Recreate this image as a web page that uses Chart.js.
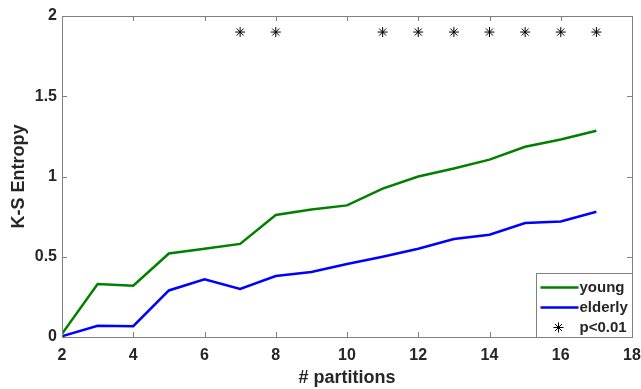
<!DOCTYPE html>
<html>
  <head>
    <meta charset="UTF-8">
    <title>K-S Entropy vs partitions</title>
    <script src="https://cdn.jsdelivr.net/npm/chart.js@4"></script>
    <style>
      html, body { margin: 0; padding: 0; background: #fff; }
      #wrap { width: 641px; height: 389px; position: relative; }
    </style>
  </head>
  <body>
    <div id="wrap"><canvas id="entropyChart"></canvas></div>

    <script>
      // values
      const partitions = [2, 3, 4, 5, 6, 7, 8, 9, 10, 11, 12, 13, 14, 15, 16, 17];
      const young =   [0.02, 0.33, 0.32, 0.52, 0.55, 0.58, 0.76, 0.795, 0.82, 0.925, 1.0, 1.05, 1.105, 1.185, 1.23, 1.285];
      const elderly = [0.005, 0.07, 0.067, 0.29, 0.36, 0.30, 0.38, 0.405, 0.455, 0.50, 0.55, 0.61, 0.637, 0.71, 0.72, 0.78];
      const sigPartitions = [7, 8, 11, 12, 13, 14, 15, 16, 17];
      const sigLevel = 1.9;
      const xTicks = [2, 4, 6, 8, 10, 12, 14, 16, 18];
      const yTicks = [0, 0.5, 1, 1.5, 2];

      const GREEN = '#008000';
      const BLUE = '#0000ff';
      const AXIS = '#808080';
      const TEXT = '#262626';
      const FONT = 'Liberation Sans, Arial, sans-serif';

      const toPoints = (xs, ys) => xs.map((x, i) => ({ x: x, y: ys[i] }));

      // box + inward ticks on all four sides, MATLAB style
      const boxPlugin = {
        id: 'box',
        afterDatasetsDraw(chart) {
          const ctx = chart.ctx;
          const a = chart.chartArea;
          const sx = chart.scales.x, sy = chart.scales.y;
          ctx.save();
          ctx.strokeStyle = AXIS;
          ctx.lineWidth = 1;
          ctx.beginPath();
          for (let v of xTicks) {
            const px = Math.round(sx.getPixelForValue(v)) + 0.5;
            ctx.moveTo(px, a.bottom); ctx.lineTo(px, a.bottom - 5);
            ctx.moveTo(px, a.top); ctx.lineTo(px, a.top + 5);
          }
          for (let v of yTicks) {
            const py = Math.round(sy.getPixelForValue(v)) + 0.5;
            ctx.moveTo(a.left, py); ctx.lineTo(a.left + 5, py);
            ctx.moveTo(a.right, py); ctx.lineTo(a.right - 5, py);
          }
          ctx.stroke();
          ctx.strokeRect(Math.round(a.left) + 0.5, Math.round(a.top) + 0.5,
                         Math.round(a.right - a.left), Math.round(a.bottom - a.top));
          ctx.restore();
        }
      };

      // legend drawn inside the plot, lower right corner
      const insideLegend = {
        id: 'insideLegend',
        afterDraw(chart) {
          const ctx = chart.ctx;
          const a = chart.chartArea;
          const w = 96, h = 64;
          const x0 = Math.round(a.right - w) + 0.5, y0 = Math.round(a.bottom - h) + 0.5;
          ctx.save();
          ctx.fillStyle = '#fff';
          ctx.fillRect(x0, y0, w, h);
          ctx.strokeStyle = AXIS;
          ctx.lineWidth = 1;
          ctx.strokeRect(x0, y0, w, h);
          ctx.font = 'bold 15px ' + FONT;
          ctx.textBaseline = 'middle';
          const rows = chart.data.datasets;
          rows.forEach((ds, i) => {
            const cy = y0 + 14 + i * 20;
            if (ds.showLine === false) {
              const cx = x0 + 22, r = 5;
              ctx.strokeStyle = '#000';
              ctx.lineWidth = 1;
              ctx.beginPath();
              for (let k = 0; k < 4; k++) {
                const ang = k * Math.PI / 4;
                ctx.moveTo(cx - r * Math.cos(ang), cy - r * Math.sin(ang));
                ctx.lineTo(cx + r * Math.cos(ang), cy + r * Math.sin(ang));
              }
              ctx.stroke();
            } else {
              ctx.strokeStyle = ds.borderColor;
              ctx.lineWidth = 2.5;
              ctx.beginPath();
              ctx.moveTo(x0 + 4, cy);
              ctx.lineTo(x0 + 42, cy);
              ctx.stroke();
            }
            ctx.fillStyle = TEXT;
            ctx.fillText(ds.label, x0 + 43, cy);
          });
          ctx.restore();
        }
      };

      new Chart(document.getElementById('entropyChart'), {
        type: 'scatter',
        data: {
          datasets: [
            {
              label: 'young',
              data: toPoints(partitions, young),
              showLine: true,
              borderColor: GREEN,
              backgroundColor: GREEN,
              borderWidth: 2.5,
              pointRadius: 0,
              tension: 0
            },
            {
              label: 'elderly',
              data: toPoints(partitions, elderly),
              showLine: true,
              borderColor: BLUE,
              backgroundColor: BLUE,
              borderWidth: 2.5,
              pointRadius: 0,
              tension: 0
            },
            {
              label: 'p<0.01',
              data: sigPartitions.map(x => ({ x: x, y: sigLevel })),
              showLine: false,
              pointStyle: 'star',
              pointRadius: 5,
              borderColor: '#000',
              backgroundColor: '#000',
              borderWidth: 1
            }
          ]
        },
        options: {
          responsive: true,
          maintainAspectRatio: false,
          animation: false,
          layout: { padding: { top: 16, right: 9, left: 8, bottom: 0 } },
          plugins: {
            legend: { display: false },
            tooltip: { enabled: false }
          },
          scales: {
            x: {
              type: 'linear',
              min: 2,
              max: 18,
              afterBuildTicks: (scale) => { scale.ticks = xTicks.map(v => ({ value: v })); },
              grid: { display: false, drawTicks: false },
              border: { display: false },
              ticks: {
                color: TEXT,
                padding: 9,
                maxRotation: 0,
                callback: (v) => String(v),
                font: { family: FONT, size: 16, weight: 'bold' }
              },
              title: {
                display: true,
                text: '# partitions',
                color: TEXT,
                padding: { top: 4, bottom: 0 },
                font: { family: FONT, size: 18, weight: 'bold' }
              },
              afterFit: (scale) => {
                scale.height = 52;
                scale.paddingLeft = 0;
                scale.paddingRight = 0;
              }
            },
            y: {
              type: 'linear',
              min: 0,
              max: 2,
              afterBuildTicks: (scale) => { scale.ticks = yTicks.map(v => ({ value: v })); },
              grid: { display: false, drawTicks: false },
              border: { display: false },
              ticks: {
                color: TEXT,
                padding: 5,
                callback: (v) => String(v),
                font: { family: FONT, size: 16, weight: 'bold' }
              },
              title: {
                display: true,
                text: 'K-S Entropy',
                color: TEXT,
                padding: { top: 0, bottom: 4 },
                font: { family: FONT, size: 18, weight: 'bold' }
              },
              afterFit: (scale) => {
                scale.width = 54;
                scale.paddingTop = 0;
                scale.paddingBottom = 0;
              }
            }
          }
        },
        plugins: [boxPlugin, insideLegend]
      });
    </script>
  </body>
</html>
